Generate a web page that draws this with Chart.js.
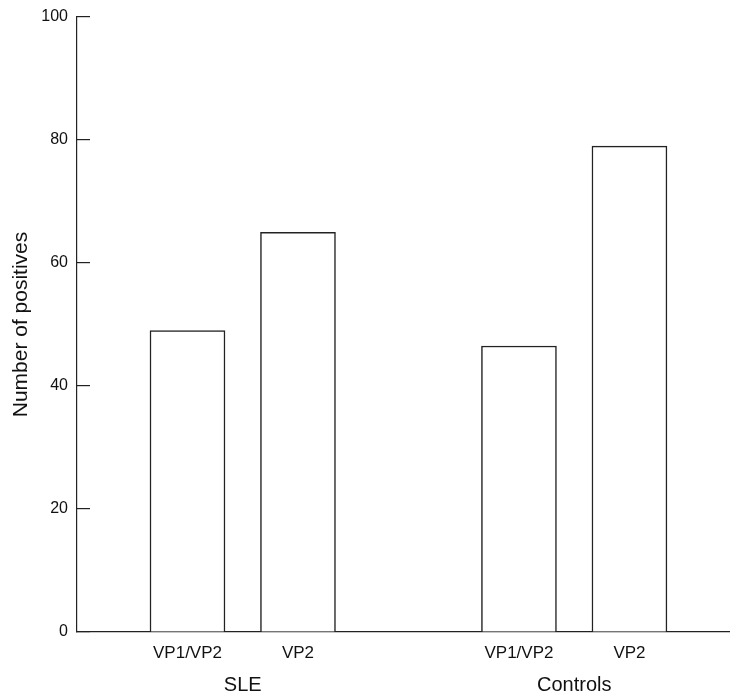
<!DOCTYPE html>
<html>
<head>
<meta charset="utf-8">
<script src="https://cdn.jsdelivr.net/npm/chart.js@4"></script>
<style>
  body { margin: 0; background: #fff; }
  #wrap { width: 730px; height: 693px; }
</style>
</head>
<body>
<div id="wrap"><canvas id="chart" width="730" height="693"></canvas></div>
<script>
// Values
const categories = ["VP1/VP2", "VP2", "VP1/VP2", "VP2"];
const groups = ["SLE", "Controls"];
const groupOf = [0, 0, 1, 1];
const positives = [49, 65, 46.5, 79];
// slot on the x axis for each bar (a blank slot separates the two groups)
const slots = [1, 2, 4, 5];
const yTicks = [0, 20, 40, 60, 80, 100];

// group label sits under the middle of its bars
const groupCentres = groups.map((g, gi) => {
    let s = slots.filter((v, i) => groupOf[i] === gi);
    return s.reduce((a, b) => a + b, 0) / s.length;
});

const ink = "#222";
const fontFamily = "'Liberation Sans', Arial, sans-serif";

let ctx = document.getElementById("chart").getContext("2d");

new Chart(ctx, {
    type: "bar",
    data: {
        datasets: [{
            label: "Number of positives",
            data: slots.map((s, i) => ({ x: s, y: positives[i] })),
            backgroundColor: "#fff",
            borderColor: ink,
            borderWidth: 1.5,
            barThickness: 75
        }]
    },
    options: {
        responsive: false,
        animation: false,
        layout: { padding: { top: 17, right: 0, left: 0, bottom: 0 } },
        plugins: { legend: { display: false }, tooltip: { enabled: false } },
        scales: {
            x: {
                type: "linear",
                min: 0,
                max: 5.91,
                offset: false,
                grid: { display: false, offset: false },
                border: { display: true, color: ink, width: 1.2 },
                afterBuildTicks: scale => { scale.ticks = slots.map(v => ({ value: v })); },
                afterFit: scale => { scale.height = 31; },
                ticks: {
                    padding: 3,
                    color: "#111",
                    font: { family: fontFamily, size: 17 },
                    callback: value => categories[slots.indexOf(value)]
                }
            },
            x2: {
                type: "linear",
                position: "bottom",
                min: 0,
                max: 5.91,
                offset: false,
                grid: { display: false, offset: false },
                border: { display: false },
                afterBuildTicks: scale => { scale.ticks = groupCentres.map(v => ({ value: v })); },
                afterFit: scale => { scale.height = 30; },
                ticks: {
                    padding: 2,
                    color: "#111",
                    font: { family: fontFamily, size: 20 },
                    callback: value => groups[groupCentres.indexOf(value)]
                }
            },
            y: {
                min: 0,
                max: 100,
                afterBuildTicks: scale => { scale.ticks = yTicks.map(v => ({ value: v })); },
                // ticks point into the plot, so the label padding must not push the plot down
                afterFit: scale => {
                    scale.width = 77;
                    scale.paddingTop = 0;
                    scale.paddingBottom = 0;
                },
                grid: {
                    drawOnChartArea: false,
                    drawTicks: true,
                    tickLength: -13,
                    color: ink,
                    lineWidth: 1.2
                },
                border: { display: true, color: ink, width: 1.2 },
                ticks: {
                    padding: 22,
                    color: "#111",
                    font: { family: fontFamily, size: 16 }
                },
                title: {
                    display: true,
                    text: "Number of positives",
                    color: "#111",
                    font: { family: fontFamily, size: 21 },
                    padding: { top: 9, bottom: 0 }
                }
            }
        }
    }
});
</script>
</body>
</html>
